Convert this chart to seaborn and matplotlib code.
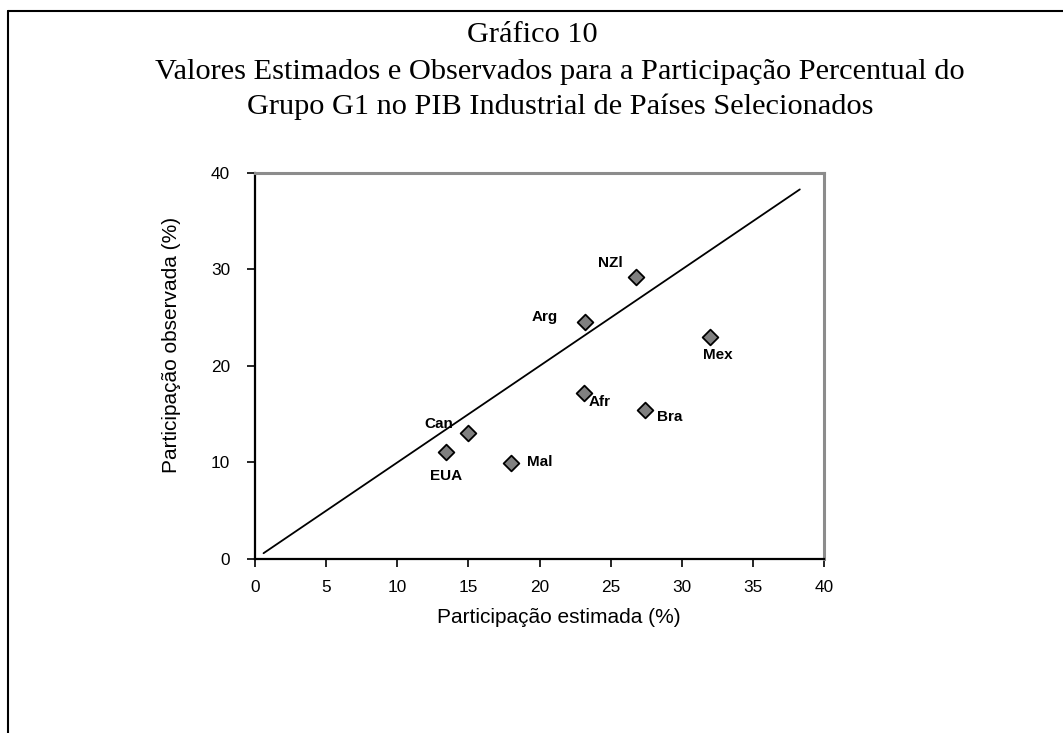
import matplotlib
matplotlib.use("Agg")
import matplotlib.pyplot as plt
from matplotlib.lines import Line2D
import pandas as pd
import seaborn as sns

# Data
countries = ["NZl", "Arg", "Mex", "Afr", "Bra", "Can", "EUA", "Mal"]
estimated = [26.8, 23.2, 32.0, 23.1, 27.4, 15.0, 13.4, 18.0]
observed = [29.2, 24.6, 23.0, 17.2, 15.4, 13.1, 11.1, 9.9]

# 45-degree reference line
line_x = [0.6, 38.3]
line_y = [0.6, 38.3]

title_lines = [
    "Gráfico 10",
    "Valores Estimados e Observados para a Participação Percentual do",
    "Grupo G1 no PIB Industrial de Países Selecionados",
]

# label placement around each marker (pixels): dx, dy
label_offsets = {
    "NZl": (-26, 14),
    "Arg": (-40, 5),
    "Mex": (8, -18),
    "Afr": (16, -9),
    "Bra": (25, -7),
    "Can": (-30, 9),
    "EUA": (0, -24),
    "Mal": (29, 1),
}


def main():
    sns.set_theme(style="white")
    plt.rcParams["font.family"] = ["Liberation Sans", "DejaVu Sans"]
    plt.rcParams["text.color"] = "black"
    plt.rcParams["axes.labelcolor"] = "black"
    plt.rcParams["xtick.color"] = "black"
    plt.rcParams["ytick.color"] = "black"

    df = pd.DataFrame({"country": countries, "est": estimated, "obs": observed})

    fig = plt.figure(figsize=(10.63, 7.33), dpi=100)
    ax = fig.add_axes([255 / 1063, 1 - 559 / 733, 569 / 1063, 386 / 733])

    ax.plot(line_x, line_y, color="black", lw=1.3, zorder=2)
    sns.scatterplot(
        data=df, x="est", y="obs", ax=ax, marker="D", s=64,
        color="#808080", edgecolor="black", linewidth=1.3, zorder=3,
    )

    for name, x, y in zip(df["country"], df["est"], df["obs"]):
        dx, dy = label_offsets[name]
        ax.annotate(name, (x, y), xytext=(dx, dy), textcoords="offset pixels",
                    ha="center", va="center", fontsize=11, fontweight="bold",
                    color="black")

    ax.set_xlim(0, 40)
    ax.set_ylim(0, 40)
    ax.set_xticks(range(0, 41, 5))
    ax.set_yticks(range(0, 41, 10))
    ax.tick_params(axis="both", direction="out", length=5.5, width=1.2,
                   color="black", labelsize=12.4, bottom=True, left=True)
    ax.tick_params(axis="x", pad=9.5)
    ax.tick_params(axis="y", pad=12.5)
    ax.set_xlabel("Participação estimada (%)", fontsize=15)
    ax.xaxis.set_label_coords(0.534, -0.127)
    ax.set_ylabel("Participação observada (%)", fontsize=15)
    ax.yaxis.set_label_coords(-0.146, 0.554)
    ax.yaxis.label.set_verticalalignment("center")

    for side in ["left", "bottom"]:
        ax.spines[side].set_color("black")
        ax.spines[side].set_linewidth(1.6)
    for side in ["top", "right"]:
        ax.spines[side].set_color("#8c8c8c")
        ax.spines[side].set_linewidth(2.2)

    title_pos = [(532, 35), (560, 72), (560, 107)]
    for text, (x, y) in zip(title_lines, title_pos):
        fig.text(x / 1063, 1 - y / 733, text, ha="center", va="center",
                 fontsize=21.9, family="Liberation Serif")

    # outer frame (only top and left edges visible)
    fig.add_artist(Line2D([7.5 / 1063, 7.5 / 1063], [0, 1 - 10.5 / 733],
                          transform=fig.transFigure, color="black", lw=1.5))
    fig.add_artist(Line2D([7.5 / 1063, 1], [1 - 10.5 / 733, 1 - 10.5 / 733],
                          transform=fig.transFigure, color="black", lw=1.5))

    fig.savefig("out.png", dpi=100)
    plt.close(fig)


if __name__ == "__main__":
    main()
